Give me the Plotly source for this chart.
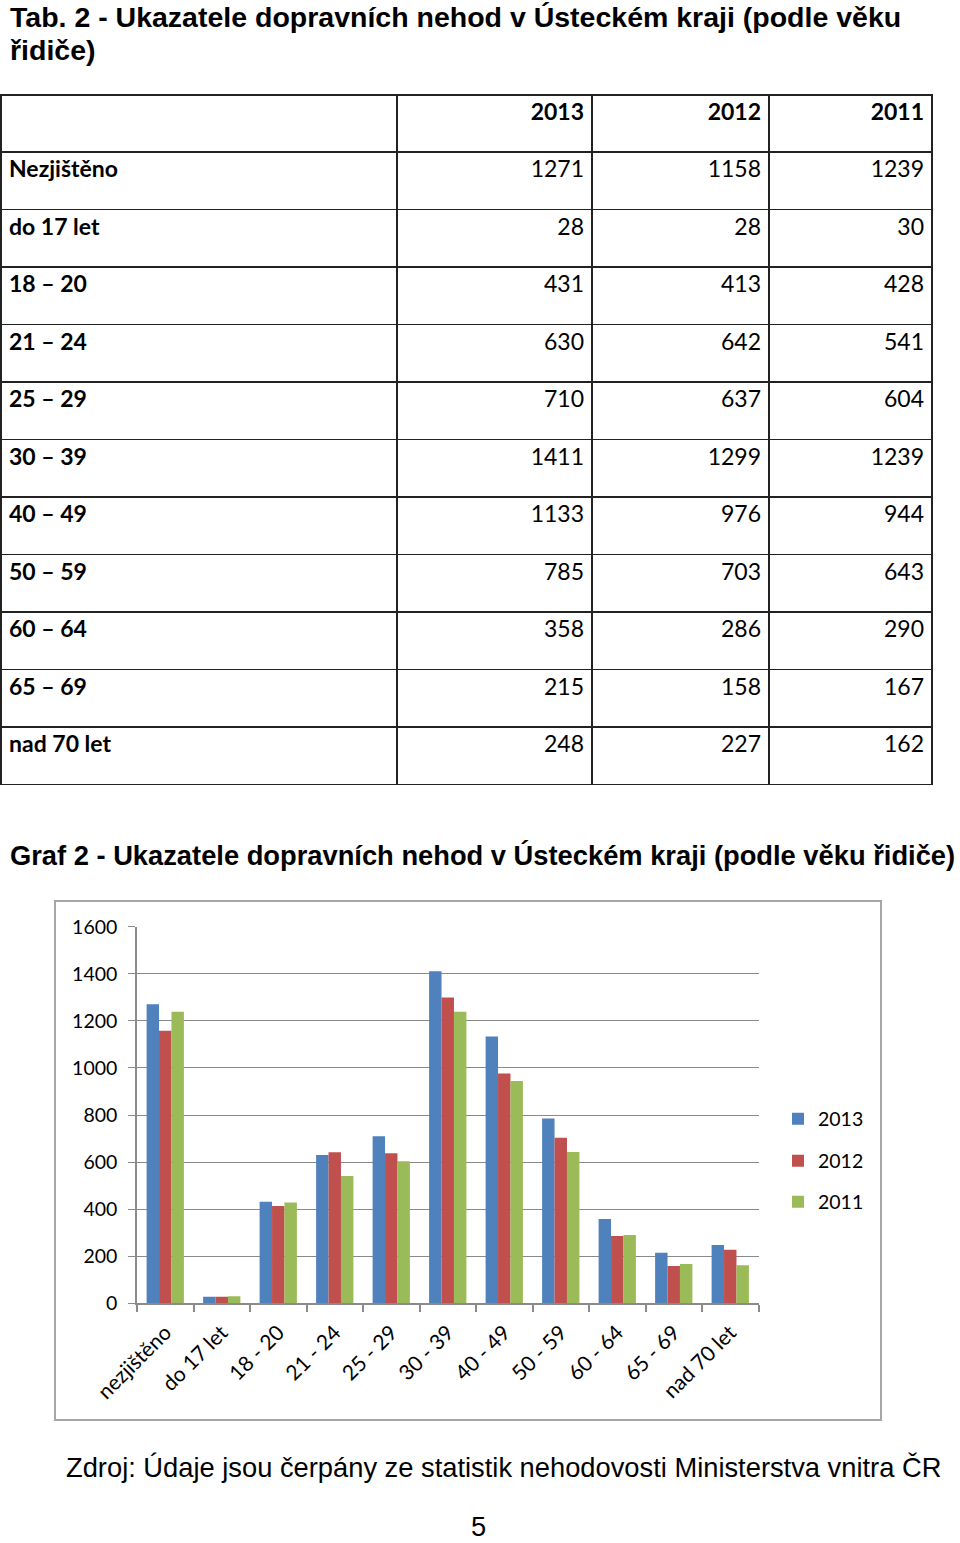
import plotly.graph_objects as go

# ---- data ----
table_rows = ["Nezjištěno", "do 17 let", "18 – 20", "21 – 24", "25 – 29", "30 – 39",
              "40 – 49", "50 – 59", "60 – 64", "65 – 69", "nad 70 let"]
chart_categories = ["nezjištěno", "do 17 let", "18 - 20", "21 - 24", "25 - 29", "30 - 39",
                    "40 - 49", "50 - 59", "60 - 64", "65 - 69", "nad 70 let"]
years = ["2013", "2012", "2011"]
v2013 = [1271, 28, 431, 630, 710, 1411, 1133, 785, 358, 215, 248]
v2012 = [1158, 28, 413, 642, 637, 1299, 976, 703, 286, 158, 227]
v2011 = [1239, 30, 428, 541, 604, 1239, 944, 643, 290, 167, 162]
y_ticks = [0, 200, 400, 600, 800, 1000, 1200, 1400, 1600]

W, H = 960, 1543
def px(x): return x / W
def py(y): return 1 - y / H

ARIAL = "Liberation Sans, Arial, sans-serif"
CAL = "Lato, Carlito, Calibri, sans-serif"
colors = ["#4F81BD", "#C0504D", "#9BBB59"]
GRID = "#8a8a8a"

fig = go.Figure()

# ---- table ----
fig.add_trace(go.Table(
    domain=dict(x=[px(1), px(932)], y=[py(792), py(95)]),
    columnwidth=[396, 195, 177, 163],
    header=dict(
        values=[""] + years,
        align=["left", "right", "right", "right"],
        height=57,
        fill_color="white",
        line=dict(color="#222222", width=1.5),
        font=dict(family=CAL, size=23, color="black", weight="bold"),
    ),
    cells=dict(
        values=[table_rows, v2013, v2012, v2011],
        align=["left", "right", "right", "right"],
        height=57.5,
        fill_color="white",
        line=dict(color="#222222", width=1.5),
        font=dict(family=CAL, size=23, color="black",
                  weight=["bold", "normal", "normal", "normal"]),
    ),
))

# ---- bars ----
for name, vals, col, lg in zip(years, [v2013, v2012, v2011], colors, ["legend", "legend2", "legend3"]):
    fig.add_trace(go.Bar(x=chart_categories, y=vals, name=name, marker=dict(color=col, line=dict(width=0)),
                         legend=lg))

leg_common = dict(font=dict(family=CAL, size=19.5, color="black"), bgcolor="rgba(0,0,0,0)",
                  xanchor="left", yanchor="middle", itemwidth=30)
fig.update_layout(
    width=W, height=H, autosize=False,
    margin=dict(l=0, r=0, t=0, b=0, autoexpand=False),
    paper_bgcolor="white", plot_bgcolor="white",
    barmode="group", bargap=0.34, bargroupgap=0,
    showlegend=True,
    legend=dict(x=px(778), y=py(1119), **leg_common),
    legend2=dict(x=px(778), y=py(1161), **leg_common),
    legend3=dict(x=px(778), y=py(1202), **leg_common),
    xaxis=dict(domain=[px(137), px(758.5)], showline=True, linecolor=GRID, linewidth=1.5,
               ticks="outside", tickson="boundaries", ticklen=7, tickcolor=GRID, tickwidth=1.5,
               tickangle=-45, tickfont=dict(family=CAL, size=21, color="black"),
               ticklabelstandoff=7,
               showgrid=False, fixedrange=True, automargin=False),
    yaxis=dict(domain=[py(1303.3), py(926.7)], range=[0, 1600], tickvals=y_ticks,
               showline=True, linecolor=GRID, linewidth=1.5,
               ticks="outside", ticklen=7, tickcolor=GRID, tickwidth=1.3,
               showgrid=True, gridcolor=GRID, gridwidth=1.3, zeroline=False,
               ticklabelstandoff=7, automargin=False,
               tickfont=dict(family=CAL, size=19.5, color="black"), fixedrange=True),
)

# chart frame
fig.add_shape(type="rect", xref="paper", yref="paper",
              x0=px(55), x1=px(881), y0=py(1420), y1=py(901),
              line=dict(color="#a6a6a6", width=2), fillcolor="rgba(0,0,0,0)", layer="below")

# ---- texts ----
def ann(text, x, y, size, bold=False, xanchor="left"):
    fig.add_annotation(text=("<b>%s</b>" % text) if bold else text, xref="paper", yref="paper",
                       x=px(x), y=py(y), xanchor=xanchor, yanchor="middle", showarrow=False,
                       borderpad=0,
                       font=dict(family=ARIAL, size=size, color="black"))

ann("Tab. 2 - Ukazatele dopravních nehod v Ústeckém kraji (podle věku", 9, 17, 28.5, bold=True)
ann("řidiče)", 9, 50, 28.5, bold=True)
ann("Graf 2 - Ukazatele dopravních nehod v Ústeckém kraji (podle věku řidiče)", 9, 855, 27.3, bold=True)
ann("Zdroj: Údaje jsou čerpány ze statistik nehodovosti Ministerstva vnitra ČR", 65, 1467, 27.3)
ann("5", 478, 1526, 27.3, xanchor="center")

# remove the default page margin so the figure sits at the page origin
fig.write_html("out.html", config={"displayModeBar": False},
               post_script="document.body.style.margin='0px';")
